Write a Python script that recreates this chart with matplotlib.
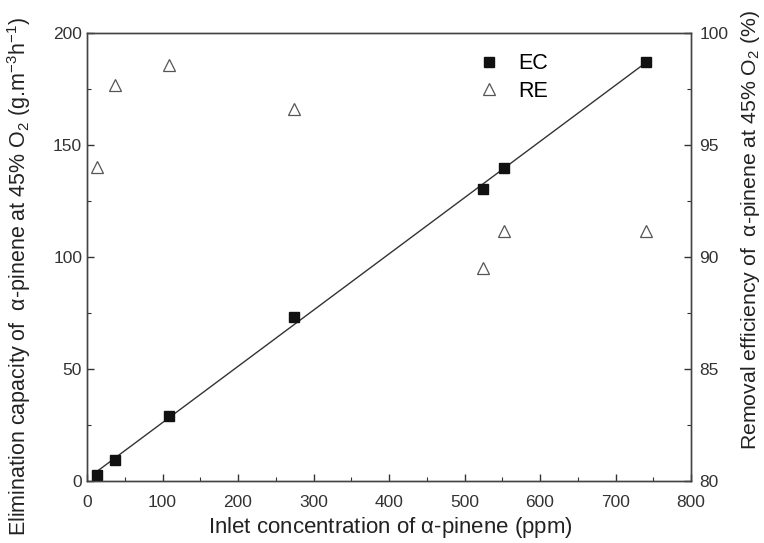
import numpy as np
import matplotlib
matplotlib.use("Agg")
import matplotlib.pyplot as plt
from matplotlib.ticker import MultipleLocator

plt.rcParams['font.family'] = ['Liberation Sans', 'DejaVu Sans']
plt.rcParams['mathtext.fontset'] = 'custom'
plt.rcParams['mathtext.rm'] = 'Liberation Sans'
plt.rcParams['mathtext.it'] = 'Liberation Sans'

# Data
inlet_ppm = [13, 37, 108.6, 274, 524.5, 552, 740]
ec_values = [2.7, 9.4, 29.2, 73.2, 130.2, 139.7, 187]
re_values = [94.0, 97.7, 98.57, 96.6, 89.5, 91.15, 91.15]

fig = plt.figure(figsize=(7.64, 5.43), dpi=100)
ax = fig.add_axes([0.1139, 0.1142, 0.7906, 0.825])
ax2 = ax.twinx()

x = np.array(inlet_ppm)
y = np.array(ec_values)
k, b = np.polyfit(x, y, 1)
xf = np.array([x.min(), x.max()])
ax.plot(xf, k * xf + b, color='#333333', lw=1.0, zorder=2)
ec_h, = ax.plot(x, y, 's', color='#111111', ms=7, zorder=3, label='EC')
re_h, = ax2.plot(inlet_ppm, re_values, '^', mfc='white', mec='#555555',
                 mew=0.9, ms=9, ls='none', label='RE')

ax.set_xlim(0, 800)
ax.set_ylim(0, 200)
ax2.set_ylim(80, 100)

ax.xaxis.set_major_locator(MultipleLocator(100))
ax.xaxis.set_minor_locator(MultipleLocator(50))
ax.yaxis.set_major_locator(MultipleLocator(50))
ax.yaxis.set_minor_locator(MultipleLocator(25))
ax2.yaxis.set_major_locator(MultipleLocator(5))
ax2.yaxis.set_minor_locator(MultipleLocator(2.5))

for a in (ax, ax2):
    a.tick_params(which='major', direction='in', length=5, width=1, labelsize=12.5,
                  color='#333333', labelcolor='#333333')
    a.tick_params(which='minor', direction='in', length=3, width=0.8, color='#333333')
    for s in a.spines.values():
        s.set_color('#444444')
        s.set_linewidth(1.0)
ax.tick_params(top=False, which='both')
ax.tick_params(axis='y', right=False, which='both')
ax.tick_params(axis='x', pad=10)
ax2.tick_params(axis='y', pad=6)

fig.text(390 / 764, 1 - 528 / 543,
         r'Inlet concentration of $\alpha$-pinene (ppm)',
         fontsize=16, color='#222222', ha='center', va='center')
fig.text(19 / 764, 1 - 276 / 543,
         r'Elimination capacity of  $\alpha$-pinene at 45% O$_2$ (g.m$^{-3}$h$^{-1}$)',
         fontsize=15.5, color='#222222', rotation=90, ha='center', va='center')
fig.text(750 / 764, 1 - 230 / 543,
         r'Removal efficiency of  $\alpha$-pinene at 45% O$_2$ (%)',
         fontsize=15.3, color='#222222', rotation=90, ha='center', va='center')

ax.legend(handles=[ec_h, re_h], loc='upper left', bbox_to_anchor=(0.616, 0.998),
          frameon=False, fontsize=15.5, handletextpad=0.85, labelspacing=0.3,
          handlelength=1.0)

fig.savefig('out.png', dpi=100)
